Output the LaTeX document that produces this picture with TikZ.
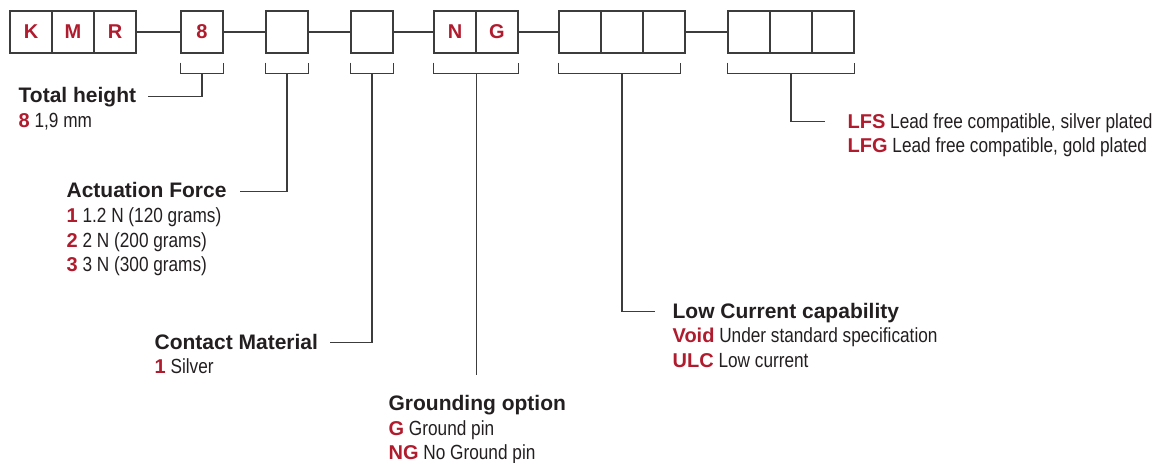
\documentclass[tikz,border=0pt]{standalone}
\usepackage{fontspec}
\setmainfont{Liberation Sans}
\newfontfamily\narrowfont[FakeStretch=0.84]{Liberation Sans}
\usetikzlibrary{calc}

\definecolor{codered}{HTML}{B01B2E}
\definecolor{inkgray}{HTML}{231F20}
\definecolor{linegray}{HTML}{3C3C3C}
\newcommand{\code}[1]{{\rmfamily\bfseries\fontsize{20}{24}\selectfont\color{codered}#1}}

\begin{document}
\begin{tikzpicture}[x=1pt,y=-1pt,line width=1.3pt,
  every node/.style={inner sep=0pt,text=inkgray},
  cell/.style={draw=linegray,minimum width=42pt,minimum height=42pt,text=codered,
    font=\bfseries\fontsize{20}{24}\selectfont},
  heading/.style={anchor=base west,text height=13pt,text depth=0pt,
    font=\bfseries\fontsize{21}{25}\selectfont},
  item/.style={anchor=base west,text height=13pt,text depth=0pt,
    font=\narrowfont\fontsize{20.5}{24}\selectfont},
  link/.style={draw=linegray},
  lead/.style={draw=linegray,shorten >=11pt}]
  \useasboundingbox (0,0) rectangle (1157,463);

  % --- Code cells ---
  \node[cell] (k) at (31,32) {K};
  \node[cell] (m) at (73,32) {M};
  \node[cell] (r) at (115,32) {R};
  \node[cell] (h) at (202,32) {8};
  \node[cell] (af) at (287,32) {};
  \node[cell] (cm) at (372,32) {};
  \node[cell] (n) at (455,32) {N};
  \node[cell] (g) at (497,32) {G};
  \node[cell] (c1) at (580,32) {};
  \node[cell] (c2) at (622,32) {};
  \node[cell] (c3) at (664,32) {};
  \node[cell] (d1) at (749,32) {};
  \node[cell] (d2) at (791,32) {};
  \node[cell] (d3) at (833,32) {};

  % links between groups
  \draw[link] (r.east) -- (h.west);
  \draw[link] (h.east) -- (af.west);
  \draw[link] (af.east) -- (cm.west);
  \draw[link] (cm.east) -- (n.west);
  \draw[link] (g.east) -- (c1.west);
  \draw[link] (c3.east) -- (d1.west);

  % --- Brackets ---
  \draw[link] ($(h.south west)+(0,9)$) |- ($(h.south)+(0,20)$) coordinate (hb) -| ($(h.south east)+(0,9)$);
  \draw[link] ($(af.south west)+(0,9)$) |- ($(af.south)+(0,20)$) coordinate (afb) -| ($(af.south east)+(0,9)$);
  \draw[link] ($(cm.south west)+(0,9)$) |- ($(cm.south)+(0,20)$) coordinate (cmb) -| ($(cm.south east)+(0,9)$);
  \draw[link] ($(n.south west)+(0,9)$) |- ($(n.south east)+(0,20)$) coordinate (ngb) -| ($(g.south east)+(0,9)$);
  \draw[link] ($(c1.south west)+(0,9)$) |- ($(c2.south)+(0,20)$) coordinate (cb) -| ($(c3.south east)+(-5,9)$);
  \draw[link] ($(d1.south west)+(0,9)$) |- ($(d2.south)+(0,20)$) coordinate (db) -| ($(d3.south east)+(0,9)$);

  % --- Total height ---
  \node[heading] (tot) at (18,102.7) {Total height};
  \node[item] (tot1) at ($(tot.base west)+(0,24.6)$) {\code{8} 1,9 mm};
  \draw[lead] (hb) |- (tot);

  % --- Actuation force ---
  \node[heading] (act) at (66,197.7) {Actuation Force};
  \node[item] (act1) at ($(act.base west)+(0,24.7)$) {\code{1} 1.2 N (120 grams)};
  \node[item] (act2) at ($(act1.base west)+(0,24.7)$) {\code{2} 2 N (200 grams)};
  \node[item] (act3) at ($(act2.base west)+(0,24.7)$) {\code{3} 3 N (300 grams)};
  \draw[lead,shorten >=13pt] (afb) |- (act);

  % --- Contact material ---
  \node[heading] (con) at (154,349) {Contact Material};
  \node[item] (con1) at ($(con.base west)+(0,24.6)$) {\code{1} Silver};
  \draw[lead] (cmb) |- (con);

  % --- Grounding option ---
  \node[heading] (gro) at (388,410.7) {Grounding option};
  \node[item] (gro1) at ($(gro.base west)+(0,24.5)$) {\code{G} Ground pin};
  \node[item] (gro2) at ($(gro1.base west)+(0,24.5)$) {\code{NG} No Ground pin};
  \coordinate (groend) at ($(ngb |- gro.north)+(0,-22)$);
  \draw[link] (ngb) -- (groend);

  % --- Low current capability ---
  \node[heading] (low) at (672,318) {Low Current capability};
  \node[item] (low1) at ($(low.base west)+(0,24.5)$) {\code{Void} Under standard specification};
  \node[item] (low2) at ($(low1.base west)+(0,24.5)$) {\code{ULC} Low current};
  \draw[lead,shorten >=17pt] (cb) |- (low);

  % --- Plating ---
  \node[item] (lfs) at (847,128) {\code{LFS} Lead free compatible, silver plated};
  \node[item] (lfg) at ($(lfs.base west)+(0,24.5)$) {\code{LFG} Lead free compatible, gold plated};
  \draw[lead,shorten >=22pt] (db) |- (lfs);
\end{tikzpicture}
\end{document}
